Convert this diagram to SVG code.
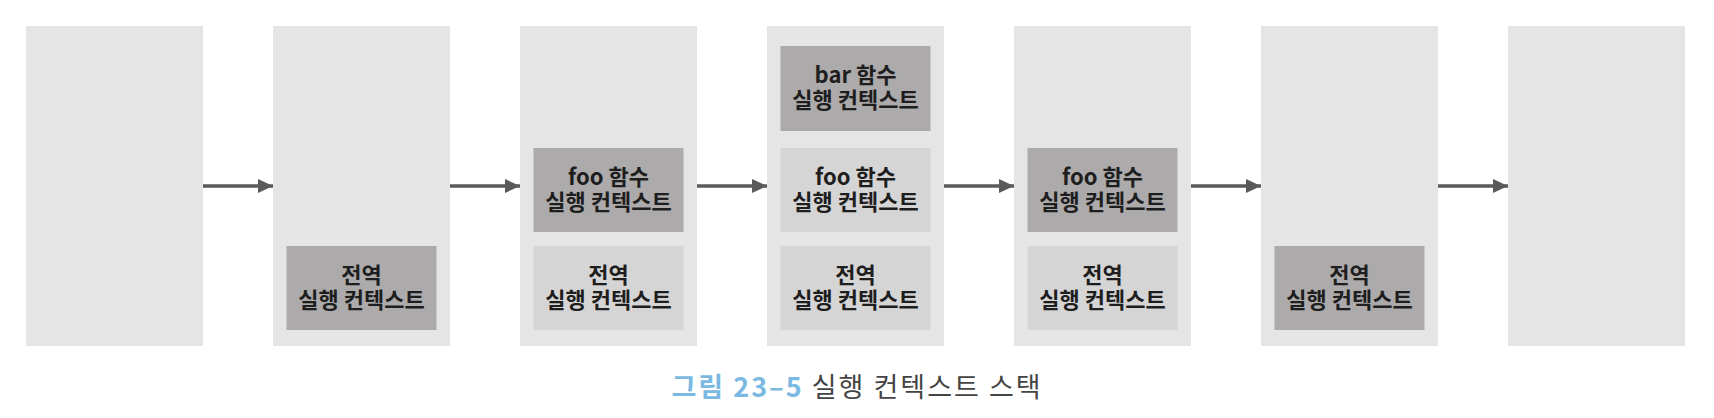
<svg xmlns="http://www.w3.org/2000/svg" width="1714" height="418" viewBox="0 0 1714 418">
<style>
.col{fill:#e6e5e6}
.dark{fill:#acaaaa}
.light{fill:#d6d5d6}
.lbl{font-family:"Noto Sans CJK KR","Noto Sans",sans-serif;font-size:22px;font-weight:600;fill:#1e1e1e;text-anchor:middle}
.conn{stroke:#5a5a5a;stroke-width:3.5;fill:none}
.cap{font-family:"Noto Sans CJK KR","Noto Sans",sans-serif;font-size:27px;letter-spacing:2px;text-anchor:middle}
</style>
<defs>
<marker id="ah" markerUnits="userSpaceOnUse" markerWidth="16" markerHeight="14" refX="15" refY="7" orient="auto">
<path d="M0,0 L15,7 L0,14 Z" fill="#5a5a5a"/>
</marker>
</defs>
<rect width="1714" height="418" fill="#ffffff"/>
<g id="stack1"><rect class="col" x="26" y="26" width="177" height="320"/></g>
<g id="stack2"><rect class="col" x="273" y="26" width="177" height="320"/>
<g id="s2-global"><rect class="dark" x="286.5" y="246" width="150" height="84"/><text class="lbl" x="361.5" y="283">전역</text><text class="lbl" x="361.5" y="308">실행 컨텍스트</text></g>
</g>
<g id="stack3"><rect class="col" x="520" y="26" width="177" height="320"/>
<g id="s3-foo"><rect class="dark" x="533.5" y="148" width="150" height="84"/><text class="lbl" x="608.5" y="185">foo 함수</text><text class="lbl" x="608.5" y="210">실행 컨텍스트</text></g>
<g id="s3-global"><rect class="light" x="533.5" y="246" width="150" height="84"/><text class="lbl" x="608.5" y="283">전역</text><text class="lbl" x="608.5" y="308">실행 컨텍스트</text></g>
</g>
<g id="stack4"><rect class="col" x="767" y="26" width="177" height="320"/>
<g id="s4-bar"><rect class="dark" x="780.5" y="46" width="150" height="85"/><text class="lbl" x="855.5" y="83">bar 함수</text><text class="lbl" x="855.5" y="108">실행 컨텍스트</text></g>
<g id="s4-foo"><rect class="light" x="780.5" y="148" width="150" height="84"/><text class="lbl" x="855.5" y="185">foo 함수</text><text class="lbl" x="855.5" y="210">실행 컨텍스트</text></g>
<g id="s4-global"><rect class="light" x="780.5" y="246" width="150" height="84"/><text class="lbl" x="855.5" y="283">전역</text><text class="lbl" x="855.5" y="308">실행 컨텍스트</text></g>
</g>
<g id="stack5"><rect class="col" x="1014" y="26" width="177" height="320"/>
<g id="s5-foo"><rect class="dark" x="1027.5" y="148" width="150" height="84"/><text class="lbl" x="1102.5" y="185">foo 함수</text><text class="lbl" x="1102.5" y="210">실행 컨텍스트</text></g>
<g id="s5-global"><rect class="light" x="1027.5" y="246" width="150" height="84"/><text class="lbl" x="1102.5" y="283">전역</text><text class="lbl" x="1102.5" y="308">실행 컨텍스트</text></g>
</g>
<g id="stack6"><rect class="col" x="1261" y="26" width="177" height="320"/>
<g id="s6-global"><rect class="dark" x="1274.5" y="246" width="150" height="84"/><text class="lbl" x="1349.5" y="283">전역</text><text class="lbl" x="1349.5" y="308">실행 컨텍스트</text></g>
</g>
<g id="stack7"><rect class="col" x="1508" y="26" width="177" height="320"/></g>
<g id="connectors">
<line class="conn" x1="203" y1="186" x2="273" y2="186" marker-end="url(#ah)"/>
<line class="conn" x1="450" y1="186" x2="520" y2="186" marker-end="url(#ah)"/>
<line class="conn" x1="697" y1="186" x2="767" y2="186" marker-end="url(#ah)"/>
<line class="conn" x1="944" y1="186" x2="1014" y2="186" marker-end="url(#ah)"/>
<line class="conn" x1="1191" y1="186" x2="1261" y2="186" marker-end="url(#ah)"/>
<line class="conn" x1="1438" y1="186" x2="1508" y2="186" marker-end="url(#ah)"/>
</g>
<text class="cap" x="857" y="397"><tspan fill="#7cb9e2" font-weight="700">그림 23–5</tspan><tspan fill="#444444"> 실행 컨텍스트 스택</tspan></text>
</svg>
